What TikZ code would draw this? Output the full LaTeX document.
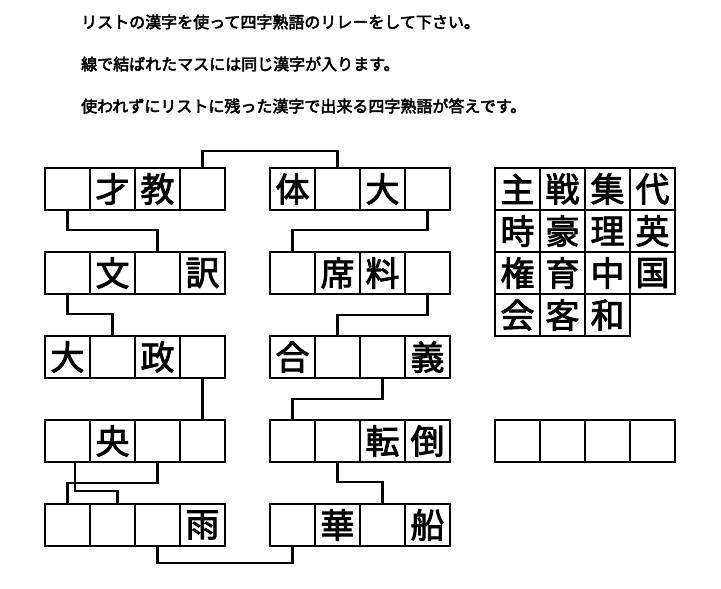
\documentclass[tikz,border=0pt]{standalone}
\usepackage{fontspec}
\newfontfamily\jpfont[FakeBold=3]{Noto Sans CJK JP}
\newfontfamily\cellfont[FakeBold=2.5]{Noto Sans CJK JP}
\usetikzlibrary{positioning}

\begin{document}
\begin{tikzpicture}[x=1pt,y=-1pt,
    cell/.style={draw,line width=1.2pt,minimum width=45pt,minimum height=42pt,
      inner sep=0pt,outer sep=0pt,font=\cellfont\fontsize{34}{34}\selectfont},
    link/.style={line width=2.2pt},
    note/.style={anchor=west,inner sep=0pt,font=\jpfont\fontsize{16}{17}\selectfont}]
    \useasboundingbox (0,0) rectangle (721,589);
    % instructions
    \foreach \n/\y/\t in {line1/22/リストの漢字を使って四字熟語のリレーをして下さい。,
                          line2/64/線で結ばれたマスには同じ漢字が入ります。,
                          line3/106/使われずにリストに残った漢字で出来る四字熟語が答えです。}
        \node[note] (\n) at (81,\y) {\t};
    % relay rows
    \foreach \n/\x/\y/\k in {L1/45/168/{{},才,教,{}},  R1/270/168/{体,{},大,{}},
                             L2/45/252/{{},文,{},訳},  R2/270/252/{{},席,料,{}},
                             L3/45/336/{大,{},政,{}},  R3/270/336/{合,{},{},義},
                             L4/45/420/{{},央,{},{}},  R4/270/420/{{},{},転,倒},
                             L5/45/504/{{},{},{},雨},  R5/270/504/{{},華,{},船}}
      {
        \foreach \c [count=\i] in \k
            \node[cell] (\n-\i) at (\x+45*\i-22.5,\y+21) {\c};
      }
    % list of kanji
    \foreach \c [count=\i] in {主,戦,集,代,時,豪,理,英,権,育,中,国,会,客,和}
        \node[cell] (list\i) at ({517.5+45*mod(\i-1,4)},{189+42*floor((\i-1)/4)}) {\c};
    % answer
    \foreach \i in {1,...,4}
        \node[cell] (ans\i) at (472.5+45*\i,441) {};
    % links
    \draw[link] (L1-4.north) -- ++(0,-17) -| (R1-2.north);
    \draw[link] (L1-1.south) -- ++(0,20) -| (L2-3.north);
    \draw[link] (R1-4.south) -- ++(0,20) -| (R2-1.north);
    \draw[link] (L2-1.south) -- ++(0,20) -| (L3-2.north);
    \draw[link] (R2-4.south) -- ++(0,21) -| (R3-2.north);
    \draw[link] (L3-4.south) -- (L4-4.north);
    \draw[link] (R3-3.south) -- ++(0,21) -| (R4-1.north);
    \draw[link] ([xshift=7.5pt]L4-1.south) -- ++(0,29) -| ([xshift=5pt]L5-2.north);
    \draw[link] (L4-3.south) -- ++(0,21) -| (L5-1.north);
    \draw[link] (R4-2.south) -- ++(0,20) -| (R5-3.north);
    \draw[link] (L5-3.south) -- ++(0,17) -| (R5-1.south);
\end{tikzpicture}
\end{document}
